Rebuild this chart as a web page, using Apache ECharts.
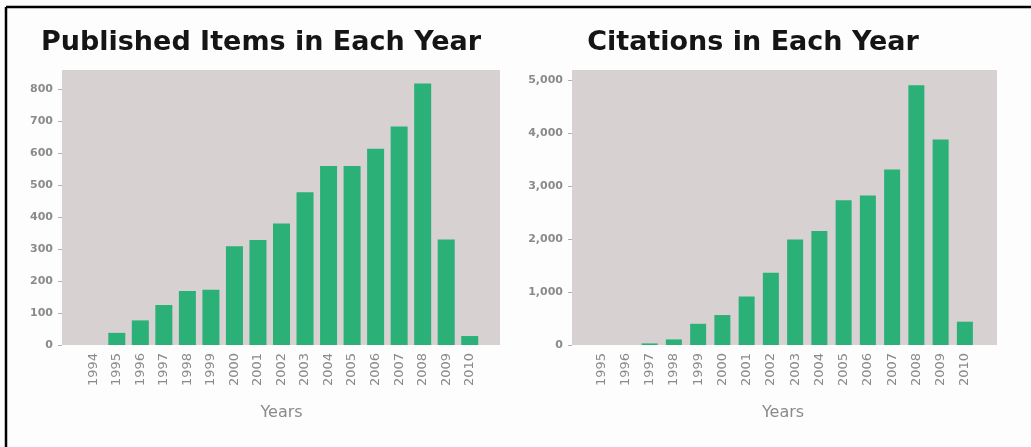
<!DOCTYPE html>
<html>
<head>
<meta charset="utf-8">
<script src="https://cdn.jsdelivr.net/npm/echarts@6/dist/echarts.min.js"></script>
<style>
html,body{margin:0;padding:0;background:#fdfdfd;}
#c{width:1031px;height:447px;}
</style>
</head>
<body>
<div id="c"></div>
<script>
// ---- data ----
const pubYears = ['1994','1995','1996','1997','1998','1999','2000','2001','2002','2003','2004','2005','2006','2007','2008','2009','2010'];
const pubValues = [0, 38, 77, 125, 169, 173, 309, 328, 380, 478, 560, 560, 614, 683, 818, 330, 28];
const citYears = ['1995','1996','1997','1998','1999','2000','2001','2002','2003','2004','2005','2006','2007','2008','2009','2010'];
const citValues = [0, 0, 30, 105, 400, 565, 915, 1365, 1990, 2150, 2730, 2820, 3310, 4900, 3880, 440];
const pubTitle = 'Published Items in Each Year';
const citTitle = 'Citations in Each Year';
const xName = 'Years';

const bg = '#d7d1d2';
const green = '#2bb077';
const labelGray = '#8a8a8a';

const chart = echarts.init(document.getElementById('c'));

const pubMax = 860, citMax = 5190;

function yLabel(fmt){
  return {
    color: labelGray, fontSize: 11, fontWeight: 'bold', fontFamily: 'DejaVu Sans',
    margin: 9, showMaxLabel: false, formatter: fmt
  };
}
const xLabel = {rotate: 90, color: labelGray, fontSize: 13, fontFamily: 'DejaVu Sans', margin: 8, interval: 0};
const titleStyle = {fontFamily: 'DejaVu Sans', fontWeight: 'bold', fontSize: 27, color: '#151515'};

chart.setOption({
  animation: false,
  backgroundColor: '#fdfdfd',
  title: [
    {text: pubTitle, left: 261, top: 29, textAlign: 'center', padding: 0, textStyle: titleStyle},
    {text: citTitle, left: 753, top: 29, textAlign: 'center', padding: 0, textStyle: titleStyle}
  ],
  graphic: [
    {type: 'line', shape: {x1: 6, y1: 7, x2: 1031, y2: 7}, style: {stroke: '#000', lineWidth: 2.5}},
    {type: 'line', shape: {x1: 6, y1: 7, x2: 6, y2: 447}, style: {stroke: '#000', lineWidth: 2.5}}
  ],
  grid: [
    {left: 62, top: 70, width: 438, height: 275, show: true, backgroundColor: bg, borderWidth: 0},
    {left: 81.5, top: 70, width: 400, height: 275},
    {left: 572, top: 70, width: 425, height: 275, show: true, backgroundColor: bg, borderWidth: 0},
    {left: 589, top: 70, width: 388, height: 275}
  ],
  xAxis: [
    {gridIndex: 0, type: 'value', show: false},
    {gridIndex: 1, type: 'category', data: pubYears,
     axisLine: {show: false}, axisTick: {show: false}, axisLabel: xLabel,
     name: xName, nameLocation: 'middle', nameGap: 60,
     nameTextStyle: {color: labelGray, fontSize: 16, fontFamily: 'DejaVu Sans'}},
    {gridIndex: 2, type: 'value', show: false},
    {gridIndex: 3, type: 'category', data: citYears,
     axisLine: {show: false}, axisTick: {show: false}, axisLabel: xLabel,
     name: xName, nameLocation: 'middle', nameGap: 60,
     nameTextStyle: {color: labelGray, fontSize: 16, fontFamily: 'DejaVu Sans'}}
  ],
  yAxis: [
    {gridIndex: 0, type: 'value', min: 0, max: pubMax, interval: 100,
     axisLine: {show: false}, axisTick: {show: true, length: 4, lineStyle: {color: '#b0b0b0'}},
     splitLine: {show: false}, axisLabel: yLabel(v => String(v))},
    {gridIndex: 1, type: 'value', min: 0, max: pubMax, show: false, splitLine: {show: false}},
    {gridIndex: 2, type: 'value', min: 0, max: citMax, interval: 1000,
     axisLine: {show: false}, axisTick: {show: true, length: 4, lineStyle: {color: '#b0b0b0'}},
     splitLine: {show: false}, axisLabel: yLabel(v => v.toLocaleString('en-US'))},
    {gridIndex: 3, type: 'value', min: 0, max: citMax, show: false, splitLine: {show: false}}
  ],
  series: [
    {type: 'bar', xAxisIndex: 1, yAxisIndex: 1, data: pubValues, barWidth: 17,
     itemStyle: {color: green}},
    {type: 'bar', xAxisIndex: 3, yAxisIndex: 3, data: citValues, barWidth: 16,
     itemStyle: {color: green}}
  ]
});
</script>
</body>
</html>
